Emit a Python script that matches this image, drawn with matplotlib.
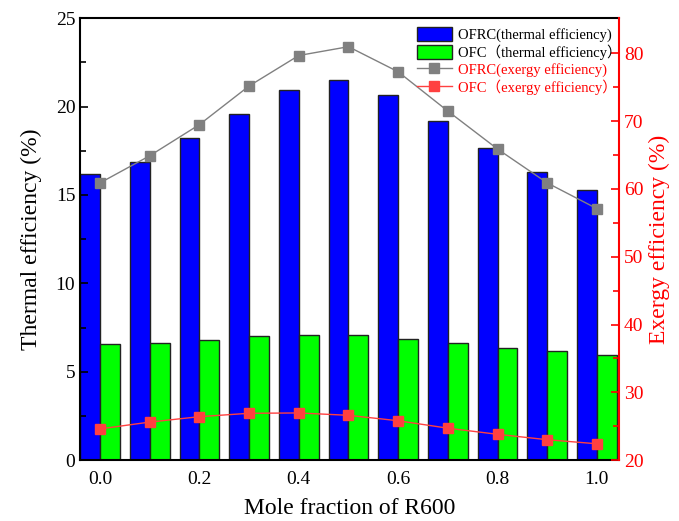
import matplotlib.pyplot as plt
import numpy as np

plt.rcParams['font.family'] = ['Liberation Serif', 'Noto Sans CJK SC']

mole_fraction = [0.0, 0.1, 0.2, 0.3, 0.4, 0.5, 0.6, 0.7, 0.8, 0.9, 1.0]
ofrc_thermal = [16.2, 16.85, 18.2, 19.6, 20.95, 21.5, 20.65, 19.2, 17.65, 16.3, 15.3]
ofc_thermal = [6.55, 6.65, 6.8, 7.0, 7.1, 7.05, 6.85, 6.6, 6.35, 6.15, 5.95]
ofrc_exergy = [60.9, 64.9, 69.5, 75.2, 79.7, 81.0, 77.3, 71.5, 65.9, 60.9, 57.1]
ofc_exergy = [24.6, 25.6, 26.4, 26.9, 26.95, 26.6, 25.8, 24.7, 23.8, 23.0, 22.4]

fig = plt.figure(figsize=(6.79, 5.21), dpi=100)
ax = fig.add_axes([0.118, 0.117, 0.794, 0.848])
ax2 = ax.twinx()

x = np.array(mole_fraction)
w = 0.04
b1 = ax.bar(x - w / 2, ofrc_thermal, w, color='#0000FF', edgecolor='#222222', linewidth=1,
            label='OFRC(thermal efficiency)')
b2 = ax.bar(x + w / 2, ofc_thermal, w, color='#00FF00', edgecolor='#222222', linewidth=1,
            label='OFC（thermal efficiency）')
ax.set_xlim(-0.04, 1.045)
ax.set_ylim(0, 25)
ax.set_xticks(mole_fraction[::2])
ax.set_xticklabels([f'{v:.1f}' for v in mole_fraction[::2]])
ax.set_yticks([0, 5, 10, 15, 20, 25])
ax.set_yticks(np.arange(2.5, 25, 5), minor=True)
ax.tick_params(axis='y', which='both', direction='in', labelsize=14, width=1.2)
ax.tick_params(axis='y', which='major', length=6)
ax.tick_params(axis='y', which='minor', length=4)
ax.tick_params(axis='x', length=0, labelsize=14, pad=8)
ax.set_ylabel('Thermal efficiency (%)', fontsize=17, labelpad=10)
ax.set_xlabel('Mole fraction of R600', fontsize=17, labelpad=7)
for s in ['left', 'bottom', 'top']:
    ax.spines[s].set_linewidth(1.5)

l1, = ax2.plot(x, ofrc_exergy, color='#808080', marker='s', markersize=7, linewidth=1,
               label='OFRC(exergy efficiency)')
l2, = ax2.plot(x, ofc_exergy, color='#FF4040', marker='s', markersize=7, linewidth=1,
               label='OFC（exergy efficiency）')
ax2.set_ylim(20, 85.2)
ax2.set_yticks([20, 30, 40, 50, 60, 70, 80])
ax2.set_yticks(np.arange(25, 85, 10), minor=True)
ax2.tick_params(axis='y', which='both', direction='in', colors='red', labelsize=14, width=1.2)
ax2.tick_params(axis='y', which='major', length=6)
ax2.tick_params(axis='y', which='minor', length=4)
ax2.spines['right'].set_color('red')
ax2.spines['right'].set_linewidth(1.5)
ax2.spines['top'].set_visible(False)
ax2.spines['left'].set_visible(False)
ax2.spines['bottom'].set_visible(False)
ax.spines['right'].set_visible(False)
ax2.set_ylabel('Exergy efficiency (%)', fontsize=17, color='red')

leg = ax2.legend([b1, b2, l1, l2],
                 [b1.get_label(), b2.get_label(), l1.get_label(), l2.get_label()],
                 loc='upper right', bbox_to_anchor=(1.02, 1.0), frameon=False,
                 fontsize=10.5, handlelength=2.4, handleheight=1.1, labelspacing=0.15,
                 borderaxespad=0.2, handletextpad=0.4)
for t, c in zip(leg.get_texts(), ['black', 'black', 'red', 'red']):
    t.set_color(c)

fig.savefig('out.png', dpi=100)
